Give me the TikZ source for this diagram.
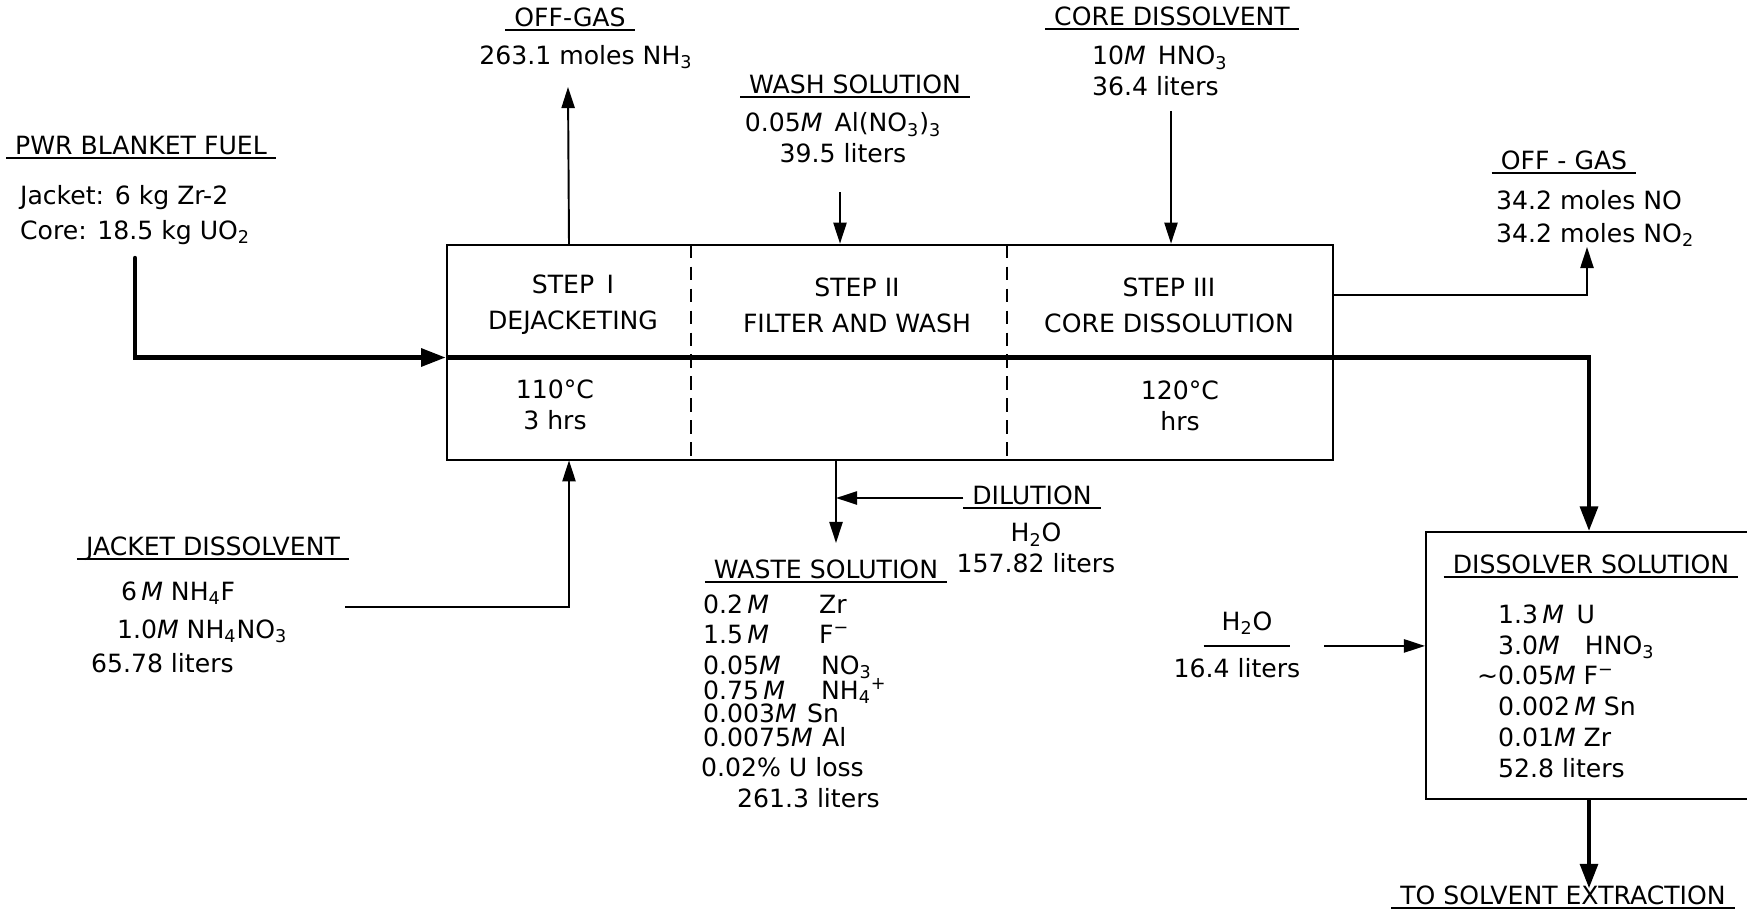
\documentclass[tikz,border=0pt]{standalone}
\usepackage{fontspec}
\setmainfont{DejaVu Sans}
\usetikzlibrary{positioning,arrows.meta,fit,calc}

\begin{document}
\begin{tikzpicture}[
    x=0.2mm, y=-0.2mm,
    font=\fontsize{14.3}{17.5}\selectfont,
    % Line styles
    thinline/.style={line width=1.1pt},
    flow/.style={
        thinline,
        -{Triangle[length=12pt,width=7.5pt]}
    },
    mainflow/.style={
        line width=2.5pt,
        -{Triangle[length=14pt,width=10pt]}
    },
    divider/.style={
        thinline,
        dash pattern=on 7.5pt off 5pt
    },
    % Node styles
    stage/.style={minimum height=43mm, inner sep=0pt},
    boxed/.style={draw, thinline, inner sep=0pt},
    txt/.style={inner sep=1pt, text height=1.5ex, text depth=.25ex},
    block/.style={inner sep=1pt, align=center},
    headline/.style={
        txt,
        inner xsep=5pt,
        inner ysep=0.5pt,
        append after command={(\tikzlastnode.south west) edge[thinline] (\tikzlastnode.south east)}
    }
]

    \useasboundingbox (0,0) rectangle (1747,912);

    % =========================================================================
    % 1. DISSOLVER VESSEL (three steps)
    % =========================================================================
    \node[stage, minimum width=48.8mm] (step1) at (569,352.5) {};
    \node[stage, minimum width=63mm, right=0pt of step1] (step2) {};
    \node[stage, minimum width=65mm, right=0pt of step2] (step3) {};
    \node[boxed, fit=(step1)(step2)(step3)] (vessel) {};

    \draw[divider] (step1.north east) -- (step1.south east);
    \draw[divider] (step2.north east) -- (step2.south east);

    \node[block] (s1top) at (573,305) {STEP\enspace I\\[3pt]DEJACKETING};
    \node[block] (s1bot) at (555,405) {110°C\\3 hrs};
    \node[block] (s2top) at (857,305) {STEP II\\[3pt]FILTER AND WASH};
    \node[block] (s3top) at (1169,305) {STEP III\\[3pt]CORE DISSOLUTION};
    \node[block] (s3bot) at (1180,406) {120°C\\hrs};

    % =========================================================================
    % 2. FEEDS
    % =========================================================================
    % PWR blanket fuel
    \node[headline, anchor=west] (fuel) at (6,148) {PWR BLANKET FUEL};
    \node[block, align=left, anchor=west] (fuelbody) at (18,215)
        {Jacket: 6 kg Zr-2\\[2pt]Core: 18.5 kg UO\textsubscript{2}};

    % Jacket dissolvent
    \node[headline] (jacket) at (213,549) {JACKET DISSOLVENT};
    \node[txt, anchor=west] (jd1) at (119,594) {6\,\textit{M} NH\textsubscript{4}F};
    \node[txt, anchor=west] (jd2) at (115,632) {1.0\textit{M} NH\textsubscript{4}NO\textsubscript{3}};
    \node[txt, anchor=west] (jd3) at (89,666) {65.78 liters};

    % Wash solution
    \node[headline] (wash) at (855,87) {WASH SOLUTION};
    \node[block] (washbody) at (843,138)
        {0.05\textit{M}\, Al(NO\textsubscript{3})\textsubscript{3}\\39.5 liters};

    % Core dissolvent
    \node[headline] (core) at (1172,19) {CORE DISSOLVENT};
    \node[block, align=left, anchor=west] (corebody) at (1090,71)
        {10\textit{M}\, HNO\textsubscript{3}\\36.4 liters};

    % Dilution water
    \node[headline] (dilution) at (1032,498) {DILUTION};
    \node[block] (dilbody) at (1036,548) {H\textsubscript{2}O\\157.82 liters};

    % Water to dissolver solution
    \node[headline, inner xsep=10pt, inner ysep=7.5pt] (water) at (1247,624) {H\textsubscript{2}O};
    \node[txt] (waterbody) at (1237,671) {16.4 liters};

    % =========================================================================
    % 3. PRODUCTS
    % =========================================================================
    % Off-gas, step I
    \node[headline] (gasA) at (570,20) {OFF-GAS};
    \node[txt] (gasAbody) at (586,58) {263.1 moles NH\textsubscript{3}};

    % Off-gas, step III
    \node[headline] (gasB) at (1564,163) {OFF - GAS};
    \node[block, align=left, anchor=west] (gasBbody) at (1494,218.5)
        {34.2 moles NO\\[1.3pt]34.2 moles NO\textsubscript{2}};

    % Waste solution
    \node[headline] (waste) at (826,572) {WASTE SOLUTION};
    \foreach \yy/\conc/\spec/\sx [count=\i] in {
        607/{0.2\,\textit{M}}/{Zr}/817,
        637/{1.5\,\textit{M}}/{F\textsuperscript{−}}/817,
        668/{0.05\textit{M}}/{NO\textsubscript{3}}/819,
        693/{0.75\,\textit{M}}/{NH\textsubscript{4}\textsuperscript{+}}/819,
        716/{0.003\textit{M}}/{Sn}/805,
        740/{0.0075\textit{M}}/{Al}/820}
    {
        \node[txt, anchor=west] (wc\i) at (701,\yy) {\conc};
        \node[txt, anchor=west] (ws\i) at (\sx,\yy) {\spec};
    }
    \node[txt, anchor=west] (uloss) at (699,770) {0.02\% U loss};
    \node[txt, anchor=west] (wastevol) at (735,801) {261.3 liters};

    % Dissolver solution
    \node[boxed, minimum width=65.2mm, minimum height=53.4mm] (dissolver) at (1589,665.5) {};
    \node[headline] (dissol) at (1591,567) {DISSOLVER SOLUTION};
    \node[block, align=left, anchor=west] (dissbody) at (1496,691)
        {1.3\,\textit{M}\enspace U\\
         3.0\textit{M}\quad HNO\textsubscript{3}\\
         \llap{∼}0.05\textit{M} F\textsuperscript{−}\\
         0.002\,\textit{M} Sn\\
         0.01\textit{M} Zr\\
         52.8 liters};

    \node[headline] (extract) at (1563,898) {TO SOLVENT EXTRACTION};

    % =========================================================================
    % 4. FLOW LINES
    % =========================================================================
    \coordinate (pwr) at (135,258);
    \coordinate (gasAtip) at (568,87);
    \coordinate (washtap) at (840,192);
    \coordinate (coretap) at (1171,111);
    \coordinate (gasBtip) at (1587,247);
    \coordinate (jdtap) at (345,607);
    \coordinate (wastetip) at (836,543);

    % Fuel through the vessel to the dissolver solution
    \draw[mainflow, line cap=round] (pwr) |- ([yshift=-1mm]vessel.west);
    \draw[mainflow] ([yshift=-1mm]vessel.west) -| (dissolver.north);
    \draw[mainflow] (dissolver.south) -- (dissolver.south |- extract.north);

    % Feeds into the vessel
    \draw[flow] (jdtap) -| (step1.south);
    \draw[flow] (washtap) -- (washtap |- vessel.north);
    \draw[flow] (coretap) -- (coretap |- vessel.north);
    \draw[flow] ([xshift=6.8mm]water.south east) -- (dissolver.west |- water.south);

    % Off-gas and waste
    \draw[flow] (step1.north) -- (gasAtip);
    \draw[flow] ([yshift=-10.2mm]vessel.north east) -| (gasBtip);
    \draw[flow] (wastetip |- vessel.south) -- (wastetip);
    \draw[flow] (dilution.west) -- (dilution.west -| wastetip);

\end{tikzpicture}
\end{document}
